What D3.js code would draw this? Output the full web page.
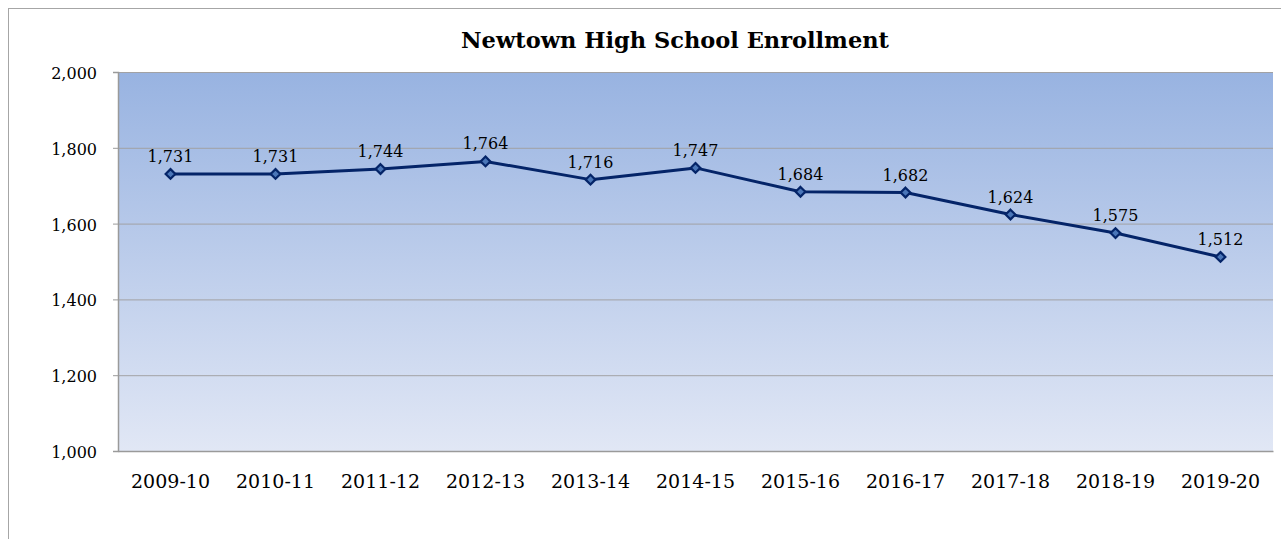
<!DOCTYPE html>
<html>
<head>
<meta charset="utf-8">
<script src="https://cdn.jsdelivr.net/npm/d3@7"></script>
<style>
  html, body { margin: 0; padding: 0; background: #ffffff; }
  svg { display: block; }
  text { font-family: "DejaVu Serif", Georgia, serif; fill: #000; }
</style>
</head>
<body>
<svg id="chart" width="1281" height="539"></svg>
<script>
const title = "Newtown High School Enrollment";
const categories = ["2009-10","2010-11","2011-12","2012-13","2013-14","2014-15","2015-16","2016-17","2017-18","2018-19","2019-20"];
const enrollment = [1731,1731,1744,1764,1716,1747,1684,1682,1624,1575,1512];
const yTicks = [1000,1200,1400,1600,1800,2000];

const svg = d3.select("#chart");
const W = 1281, H = 539;
const plot = {left: 118, top: 72, right: 1273, bottom: 451};

// outer chart frame (extends beyond viewport)
svg.append("rect")
  .attr("x", 8.5).attr("y", 8.5)
  .attr("width", W + 20).attr("height", H + 20)
  .attr("fill", "#fff").attr("stroke", "#a6a6a6").attr("stroke-width", 1);

const defs = svg.append("defs");
const grad = defs.append("linearGradient").attr("id", "bg")
  .attr("x1", 0).attr("y1", 0).attr("x2", 0).attr("y2", 1);
grad.append("stop").attr("offset", "0%").attr("stop-color", "#98b3e1");
grad.append("stop").attr("offset", "100%").attr("stop-color", "#e1e7f5");

const x = d3.scaleBand().domain(categories).range([plot.left, plot.right]);
const y = d3.scaleLinear().domain([1000, 2000]).range([plot.bottom, plot.top]);

svg.append("rect")
  .attr("x", plot.left).attr("y", plot.top)
  .attr("width", plot.right - plot.left).attr("height", plot.bottom - plot.top)
  .attr("fill", "url(#bg)");

// gridlines
const yAxis = d3.axisLeft(y).tickValues(yTicks)
  .tickSize(-(plot.right - plot.left)).tickPadding(0).tickFormat("");
const gGrid = svg.append("g").attr("transform", `translate(${plot.left},0)`).call(yAxis);
gGrid.select(".domain").remove();
gGrid.selectAll(".tick line").attr("stroke", "#a2a2a4").attr("stroke-width", 1);

// tick marks + labels
const yAxis2 = d3.axisLeft(y).tickValues(yTicks).tickSize(5).tickPadding(16)
  .tickFormat(d3.format(","));
const gY = svg.append("g").attr("transform", `translate(${plot.left},0)`).call(yAxis2);
gY.select(".domain").attr("stroke", "#9a9a9a").attr("stroke-width", 1.5);
gY.selectAll(".tick line").attr("stroke", "#9a9a9a");
gY.selectAll(".tick text").attr("font-size", 16).attr("font-family", "DejaVu Serif")
  .attr("fill", "#000").attr("dy", "0.4em");

// x axis
const xAxis = d3.axisBottom(x).tickSize(0).tickPadding(0);
const gX = svg.append("g").attr("transform", `translate(0,${plot.bottom})`).call(xAxis);
gX.select(".domain").attr("stroke", "#9a9a9a").attr("stroke-width", 1.5);
gX.selectAll(".tick text").attr("font-size", 19).attr("font-family", "DejaVu Serif")
  .attr("fill", "#000").attr("dy", 0).attr("y", 37);

// line
const cx = d => x(d) + x.bandwidth() / 2;
const data = categories.map((c, i) => ({c, v: enrollment[i]}));
svg.append("path").datum(data)
  .attr("fill", "none").attr("stroke", "#042468").attr("stroke-width", 3)
  .attr("stroke-linejoin", "round")
  .attr("d", d3.line().x(d => cx(d.c)).y(d => y(d.v)));

// markers
const sym = d3.symbol().type(d3.symbolDiamond2).size(60);
svg.append("g").selectAll("path").data(data).join("path")
  .attr("transform", d => `translate(${cx(d.c)},${y(d.v)})`)
  .attr("d", sym)
  .attr("fill", "#4a76b8").attr("stroke", "#042468").attr("stroke-width", 2.2);

// data labels
svg.append("g").selectAll("text").data(data).join("text")
  .attr("x", d => cx(d.c)).attr("y", d => y(d.v) - 12)
  .attr("text-anchor", "middle").attr("font-size", 16)
  .text(d => d3.format(",")(d.v));

// title
svg.append("text").attr("x", 675).attr("y", 48)
  .attr("text-anchor", "middle").attr("font-size", 22.5).attr("font-weight", "bold")
  .text(title);
</script>
</body>
</html>
